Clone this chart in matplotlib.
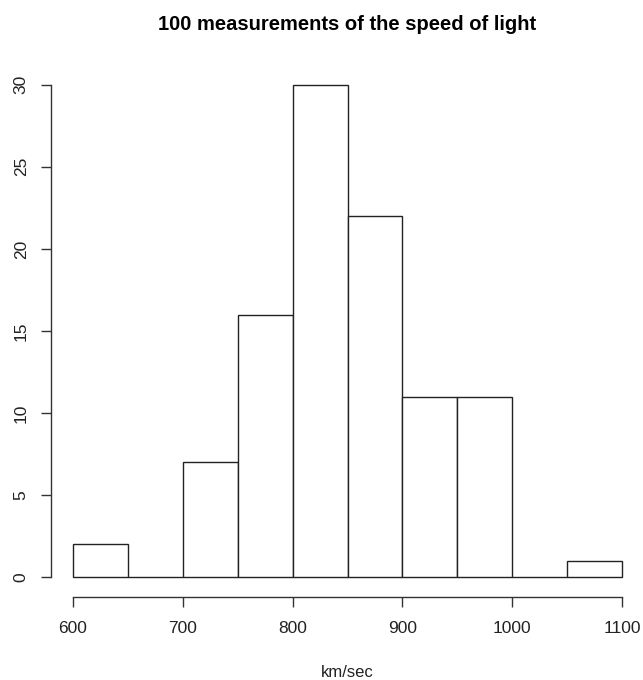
import matplotlib.pyplot as plt
import numpy as np

plt.rcParams['font.family'] = ['Liberation Sans', 'DejaVu Sans']

# histogram of light speed measurements (km/sec above 299000)
bin_edges = [600, 650, 700, 750, 800, 850, 900, 950, 1000, 1050, 1100]
counts = [2, 0, 7, 16, 30, 22, 11, 11, 0, 1]
x_ticks = [600, 700, 800, 900, 1000, 1100]
y_ticks = [0, 5, 10, 15, 20, 25, 30]

W, H = 643, 680
fig = plt.figure(figsize=(W / 100, H / 100), dpi=100)
left, right, top, bottom = 51, 644, 65, 597
ax = fig.add_axes([left / W, 1 - bottom / H, (right - left) / W, (bottom - top) / H])

lo = np.array(bin_edges[:-1])
widths = np.diff(bin_edges)
ax.bar(lo, counts, width=widths, align='edge', facecolor='white',
       edgecolor='#222222', linewidth=1.0)

ax.set_xlim(580, 1120)
ax.set_ylim(-1.2, 31.2)
ax.set_xticks(x_ticks)
ax.set_yticks(y_ticks)
ax.set_yticklabels([str(v) for v in y_ticks], rotation=90, va='center')

for s in ['top', 'right']:
    ax.spines[s].set_visible(False)
ax.spines['left'].set_bounds(0, 30)
ax.spines['bottom'].set_bounds(600, 1100)
for s in ['left', 'bottom']:
    ax.spines[s].set_color('#333333')
    ax.spines[s].set_linewidth(1.0)

ax.tick_params(axis='both', length=7, width=1.0, color='#333333',
               labelsize=12.5, labelcolor='#222222')
ax.tick_params(axis='x', pad=10)
ax.tick_params(axis='y', pad=9)

ax.set_xlabel('km/sec', fontsize=12, labelpad=21, color='#222222')
fig.text((left + right) / 2 / W, 1 - 25 / H, '100 measurements of the speed of light',
         ha='center', va='center', fontsize=14.5, fontweight='bold')

fig.savefig('out.png', dpi=100)
